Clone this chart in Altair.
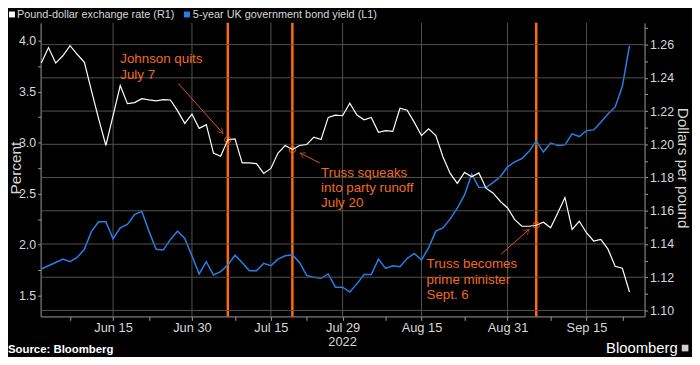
import math
import json
import altair as alt
import pandas as pd

# ---------------- data ----------------
dates = pd.bdate_range("2022-06-01", "2022-09-23")  # weekdays, plotted evenly spaced

gbp_usd = [
    1.2489, 1.2582, 1.2489, 1.2533, 1.2594, 1.2542, 1.2493, 1.2320, 1.2152, 1.1993,
    1.2173, 1.2354, 1.2245, 1.2251, 1.2275, 1.2267, 1.2261, 1.2269, 1.2267, 1.2201,
    1.2126, 1.2182, 1.2096, 1.2118, 1.1947, 1.1928, 1.2027, 1.2033, 1.1888, 1.1888,
    1.1884, 1.1825, 1.1855, 1.1947, 1.1993, 1.1968, 1.1993, 1.1999, 1.2043, 1.2029,
    1.2162, 1.2176, 1.2172, 1.2247, 1.2176, 1.2148, 1.2162, 1.2072, 1.2082, 1.2078,
    1.2217, 1.2205, 1.2132, 1.2053, 1.2093, 1.2053, 1.1924, 1.1825, 1.1765, 1.1831,
    1.1805, 1.1828, 1.1736, 1.1706, 1.1656, 1.1617, 1.1547, 1.1507, 1.1507, 1.1513,
    1.1531, 1.1498, 1.1587, 1.1680, 1.1488, 1.1537, 1.1468, 1.1418, 1.1428, 1.1369,
    1.1266, 1.1254, 1.1111,
]

uk_5y_yield = [
    1.762, 1.794, 1.826, 1.859, 1.833, 1.875, 1.955, 2.133, 2.224, 2.224,
    2.059, 2.165, 2.198, 2.295, 2.327, 2.133, 1.955, 1.949, 2.052, 2.133,
    2.062, 1.891, 1.713, 1.833, 1.703, 1.736, 1.800, 1.897, 1.826, 1.745,
    1.745, 1.817, 1.794, 1.859, 1.891, 1.900, 1.826, 1.697, 1.681, 1.671,
    1.713, 1.584, 1.584, 1.536, 1.616, 1.707, 1.707, 1.859, 1.768, 1.794,
    1.784, 1.865, 1.914, 1.849, 1.972, 2.133, 2.165, 2.253, 2.359, 2.488,
    2.692, 2.563, 2.560, 2.611, 2.666, 2.763, 2.811, 2.844, 2.915, 3.015,
    2.908, 2.995, 2.973, 2.979, 3.086, 3.060, 3.118, 3.125, 3.199, 3.280,
    3.350, 3.550, 3.952,
]

tick_dates = ["2022-06-15", "2022-06-30", "2022-07-15", "2022-07-29",
              "2022-08-15", "2022-08-31", "2022-09-15"]
tick_labels = ["Jun 15", "Jun 30", "Jul 15", "Jul 29", "Aug 15", "Aug 31", "Sep 15"]
minor_dates = ["2022-06-07", "2022-06-22", "2022-07-08", "2022-07-22",
               "2022-08-08", "2022-08-23", "2022-09-08", "2022-09-22"]
year_label = "2022"
year_date = "2022-07-29"

right_ticks = [1.10, 1.12, 1.14, 1.16, 1.18, 1.20, 1.22, 1.24, 1.26]
left_ticks = [1.5, 2.0, 2.5, 3.0, 3.5, 4.0]

event_dates = ["2022-07-07", "2022-07-20", "2022-09-06"]
event_texts = ["Johnson quits\nJuly 7",
               "Truss squeaks\ninto party runoff\nJuly 20",
               "Truss becomes\nprime minister\nSept. 6"]
# annotation anchors in (business-day index, dollars per pound)
label_idx = [11.0, 39.0, 53.7]
label_val = [1.2487, 1.1805, 1.1254]
arrow_from_idx = [19.1, 38.8, 64.1]
arrow_from_val = [1.2366, 1.1888, 1.1339]
arrow_to_idx = [25.3, 36.1, 68.0]
arrow_to_val = [1.2066, 1.1947, 1.1488]

legend_names = ["Pound-dollar exchange rate (R1)", "5-year UK government bond yield (L1)"]

# ---------------- styling ----------------
FONT = "Liberation Sans"
ORANGE = "#ff6a10"
ORANGE_TXT = "#f26a22"
ORANGE_ARW = "#e2571a"
BLUE = "#2680e8"
WHITE = "#ffffff"
LABEL = "#d8d8d8"
AXIS = "#9a9a9a"
GRID = "#525252"

W, H = 611, 297
X_DOM = [-0.1, 84.1]
YL_DOM = [1.297, 4.174]
YR_DOM = [1.0964, 1.2731]


def idx(d):
    return int(dates.get_loc(pd.Timestamp(d)))


df = pd.DataFrame({"i": list(range(len(dates))), "gbp": gbp_usd, "yld": uk_5y_yield})
major_idx = [idx(d) for d in tick_dates]
minor_idx = [idx(d) for d in minor_dates]
event_idx = [idx(d) for d in event_dates]

ev_df = pd.DataFrame({"i": event_idx})
lab_df = pd.DataFrame({"i": label_idx, "v": label_val, "t": event_texts})
vgrid_df = pd.DataFrame({"g": major_idx})
hgrid_df = pd.DataFrame({"h": right_ticks})

px_i = W / (X_DOM[1] - X_DOM[0])
px_v = H / (YR_DOM[1] - YR_DOM[0])
angles = []
for fi, fv, ti, tv in zip(arrow_from_idx, arrow_from_val, arrow_to_idx, arrow_to_val):
    dx = (ti - fi) * px_i
    dy = -(tv - fv) * px_v
    angles.append((math.degrees(math.atan2(dy, dx)) + 90) % 360)
arr_df = pd.DataFrame({"fi": arrow_from_idx, "fv": arrow_from_val,
                       "ti": arrow_to_idx, "tv": arrow_to_val, "a": angles})

xs = alt.Scale(domain=X_DOM, nice=False, zero=False)
ysl = alt.Scale(domain=YL_DOM, nice=False, zero=False)
ysr = alt.Scale(domain=YR_DOM, nice=False, zero=False)

major_js = json.dumps(major_idx)
labels_js = json.dumps(tick_labels)
x_axis = alt.Axis(
    values=sorted(major_idx + minor_idx),
    labelExpr=f"indexof({major_js}, datum.value) >= 0 ? {labels_js}[indexof({major_js}, datum.value)] : ''",
    grid=False, orient="bottom",
    domainColor=AXIS, tickColor=AXIS, tickSize=4,
    labelColor=LABEL, labelFontSize=13, labelPadding=1,
    labelOverlap=False, labelFlush=False, title=None,
)

left_vals = [round(left_ticks[0] + 0.25 * k, 2) for k in range(2 * (len(left_ticks) - 1) + 1)]
left_axis = alt.Axis(
    orient="left", values=left_vals,
    labelExpr="round(datum.value*4) % 2 == 0 ? format(datum.value, '.1f') : ''",
    grid=False, domainColor=AXIS, tickColor=AXIS, tickSize=3,
    labelColor=LABEL, labelFontSize=12.5, labelPadding=2, labelOverlap=False,
    title="Percent", titleColor=LABEL, titleFontSize=15.5, titleFontWeight="normal",
    titleAngle=-90, titleX=-25, titleY=H / 2 - 2, titleAlign="center", titleBaseline="middle",
)

right_vals = [round(1.10 + 0.01 * k, 2) for k in range(18)]
right_axis = alt.Axis(
    orient="right", values=right_vals,
    labelExpr="round(datum.value*100) % 2 == 0 ? format(datum.value, '.2f') : ''",
    grid=False,
    domainColor=AXIS, tickColor=AXIS, tickSize=3,
    labelColor=LABEL, labelFontSize=12.5, labelPadding=2, labelOverlap=False,
    title="Dollars per pound", titleColor=LABEL, titleFontSize=15.5, titleFontWeight="normal",
    titleAngle=90, titleX=38, titleY=H / 2 - 2, titleAlign="center", titleBaseline="middle",
)


def X(field="i"):
    return alt.X(f"{field}:Q", scale=xs, axis=x_axis)


def YR(field):
    return alt.Y(f"{field}:Q", scale=ysr, axis=right_axis)


# ---------------- left (percent) ----------------
vgrid = alt.Chart(vgrid_df).mark_rule(color=GRID, strokeWidth=1).encode(x=X("g"))
rules = alt.Chart(ev_df).mark_rule(color=ORANGE, strokeWidth=2.5).encode(x=X())
blue = alt.Chart(df).mark_line(color=BLUE, strokeWidth=1.5).encode(
    x=X(), y=alt.Y("yld:Q", scale=ysl, axis=left_axis))
left = alt.layer(vgrid, rules, blue)

# ---------------- right (dollars per pound) ----------------
hgrid = alt.Chart(hgrid_df).mark_rule(color=GRID, strokeWidth=1).encode(y=YR("h"))
white = alt.Chart(df).mark_line(color=WHITE, strokeWidth=1.2).encode(x=X(), y=YR("gbp"))
circles = alt.Chart(df).transform_filter(
    alt.FieldOneOfPredicate(field="i", oneOf=event_idx)
).mark_point(shape="circle", size=40, filled=False, color=ORANGE, strokeWidth=1.2).encode(
    x=X(), y=YR("gbp"))
arrows = alt.Chart(arr_df).mark_rule(color=ORANGE_ARW, strokeWidth=1).encode(
    x=X("fi"), y=YR("fv"), x2="ti:Q", y2="tv:Q")
heads = alt.Chart(arr_df).mark_point(
    shape="M -0.7 1.2 L 0 0 L 0.7 1.2", size=70, filled=False, color=ORANGE_ARW, strokeWidth=1,
).encode(x=X("ti"), y=YR("tv"), angle=alt.Angle("a:Q", scale=None))
texts = alt.Chart(lab_df).mark_text(
    align="left", baseline="alphabetic", color=ORANGE_TXT, fontSize=13.5,
    lineHeight=15.5, lineBreak="\n", font=FONT,
).encode(x=X(), y=YR("v"), text="t:N")

year = alt.Chart(pd.DataFrame({"i": [idx(year_date)], "t": [year_label]})).mark_text(
    baseline="middle", align="center", color=LABEL, fontSize=13, font=FONT,
).encode(x=X(), y=alt.value(H + 26), text="t:N")

one = pd.DataFrame({"k": [0]})
leg_sq1 = alt.Chart(one).mark_square(size=36, color=WHITE, opacity=1).encode(
    x=alt.value(-29), y=alt.value(-8.5))
leg_tx1 = alt.Chart(one).mark_text(align="left", baseline="alphabetic", color=LABEL,
                                   fontSize=11, font=FONT, text=legend_names[0]).encode(
    x=alt.value(-24), y=alt.value(-5))
leg_sq2 = alt.Chart(one).mark_square(size=36, color=BLUE, opacity=1).encode(
    x=alt.value(148), y=alt.value(-8.5))
leg_tx2 = alt.Chart(one).mark_text(align="left", baseline="alphabetic", color=LABEL,
                                   fontSize=11, font=FONT, text=legend_names[1]).encode(
    x=alt.value(154), y=alt.value(-5))

src = alt.Chart(one).mark_text(align="left", baseline="alphabetic", color=WHITE,
                               fontSize=11.5, fontWeight="bold", font=FONT,
                               text="Source: Bloomberg").encode(
    x=alt.value(-33), y=alt.value(334))
brand = alt.Chart(one).mark_text(align="left", baseline="alphabetic", color=WHITE,
                                 fontSize=15, font=FONT, text="Bloomberg").encode(
    x=alt.value(572), y=alt.value(334))
icon = alt.Chart(one).mark_square(size=45, color="#cfcfcf", opacity=1).encode(
    x=alt.value(652), y=alt.value(329))

right = alt.layer(hgrid, white, circles, arrows, heads, texts, year,
                  leg_sq1, leg_tx1, leg_sq2, leg_tx2, src, brand, icon)

chart = alt.layer(left, right).resolve_scale(y="independent").properties(
    width=W, height=H,
    padding={"left": 33, "top": 13, "right": 48, "bottom": 39},
    autosize=alt.AutoSizeParams(type="none"),
    background="#000000",
).configure_view(stroke=None).configure_axis(labelFont=FONT, titleFont=FONT)

chart.save("out.html", embed_options={"renderer": "svg", "actions": False})
